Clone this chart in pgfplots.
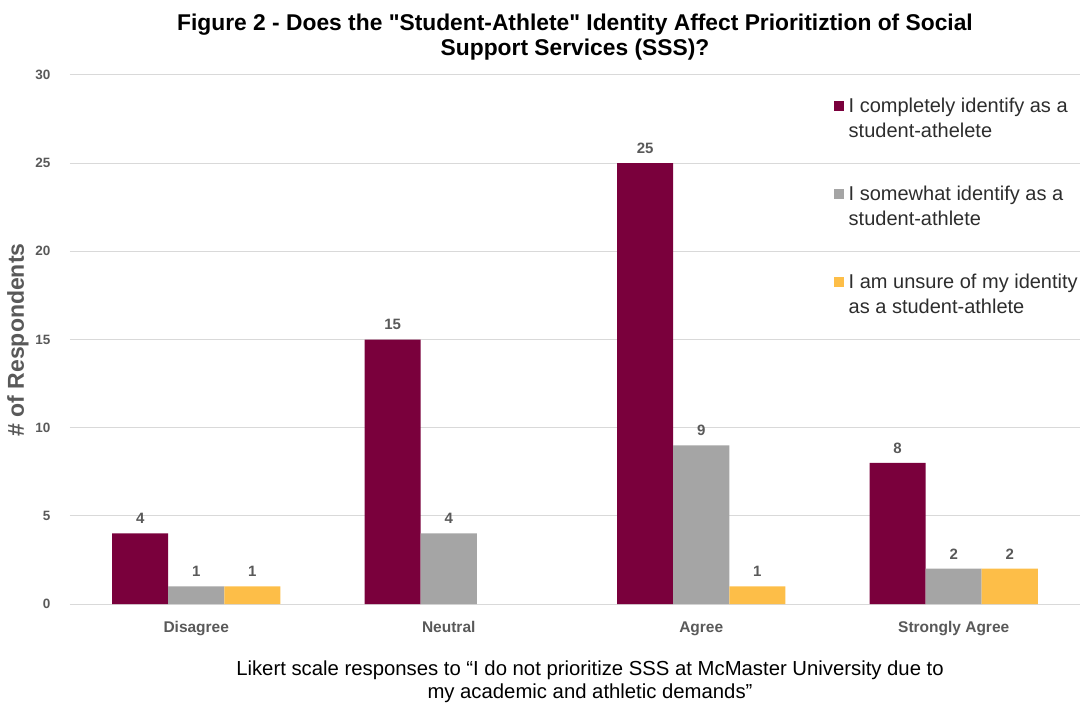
\documentclass[border=0pt]{standalone}
\usepackage{fontspec}
\setmainfont{Liberation Sans}[Ligatures=TeXOff]
\usepackage{pgfplots}
\pgfplotsset{compat=1.18}
\definecolor{maroon}{RGB}{122,0,60}
\definecolor{bargray}{RGB}{165,165,165}
\definecolor{gold}{RGB}{253,190,72}
\definecolor{txtgray}{RGB}{89,89,89}
\definecolor{gridgray}{RGB}{217,217,217}
\definecolor{legtxt}{RGB}{45,45,45}
\begin{document}
\begin{tikzpicture}[x=1pt,y=1pt]
\useasboundingbox (-70,-100) rectangle (1013,604);
\begin{axis}[
  scale only axis, width=1010pt, height=529pt,
  at={(0,0)}, anchor=south west,
  xmin=-0.5, xmax=3.5, ymin=0, ymax=30,
  ybar, bar width=0.222,
  axis line style={draw=none},
  ytick={0,5,...,30},
  xtick={0,1,2,3},
  xticklabels={Disagree,Neutral,Agree,Strongly Agree},
  major tick length=0pt,
  ymajorgrids, grid style={gridgray, line width=1pt},
  /pgf/number format/assume math mode=true,
  yticklabel style={font=\fontsize{13.5}{13.5}\selectfont\bfseries, text=txtgray, xshift=-16pt},
  xticklabel style={font=\fontsize{15.5}{15.5}\selectfont\bfseries, text=txtgray, yshift=-14pt},
  nodes near coords,
  nodes near coords style={font=\fontsize{15}{15}\selectfont\bfseries, text=txtgray, yshift=6pt},
  legend cell align=left,
  legend style={at={(0.753,0.965)}, anchor=north west, draw=none, fill=none,
    font=\fontsize{20}{25}\selectfont, text=legtxt, align=left, row sep=43pt,
    nodes={inner xsep=5pt}},
  legend image code/.code={\fill[#1] (0pt,7pt) rectangle (10pt,17pt);},
]
\addplot[fill=maroon, draw=none, bar shift=-0.222] coordinates {(0,4) (1,15) (2,25) (3,8)};
\addlegendentry{I completely identify as a\\student-athelete}
\addplot[fill=bargray, draw=none, bar shift=0] coordinates {(0,1) (1,4) (2,9) (3,2)};
\addlegendentry{I somewhat identify as a\\student-athlete}
\addplot[fill=gold, draw=none, bar shift=0.222] coordinates {(0,1) (2,1) (3,2)};
\addlegendentry{I am unsure of my identity\\as a student-athlete}
\end{axis}
\node[font=\fontsize{22.8}{25}\selectfont\bfseries, align=center] at (505,567)
  {Figure 2 - Does the "Student-Athlete" Identity Affect Prioritiztion of Social\\Support Services (SSS)?};
\node[font=\fontsize{23}{23}\selectfont\bfseries, text=txtgray, rotate=90] at (-52,264) {\# of Respondents};
\node[font=\fontsize{20.3}{23}\selectfont, align=center] at (520,-78)
  {Likert scale responses to “I do not prioritize SSS at McMaster University due to\\my academic and athletic demands”};
\end{tikzpicture}
\end{document}
